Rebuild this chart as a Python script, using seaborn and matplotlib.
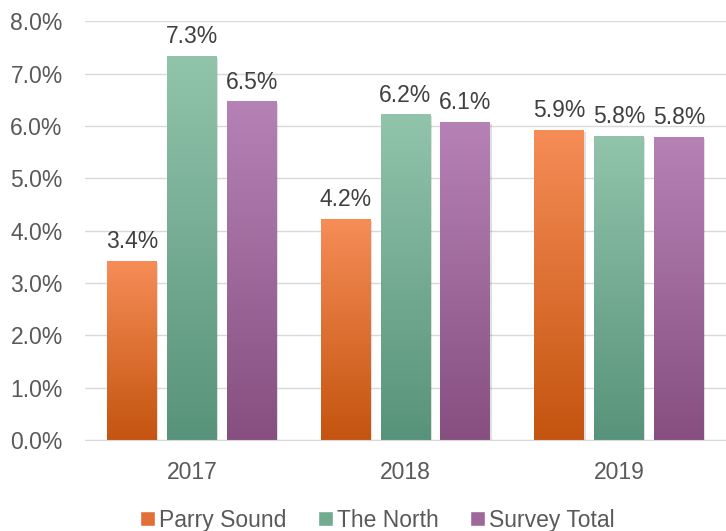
import numpy as np
import pandas as pd
import matplotlib
matplotlib.use("Agg")
import matplotlib.pyplot as plt
from matplotlib.colors import LinearSegmentedColormap
from matplotlib.patches import Patch
import matplotlib.patheffects as pe
import seaborn as sns

years = ["2017", "2018", "2019"]
series = ["Parry Sound", "The North", "Survey Total"]
parry_sound = [3.41, 4.21, 5.91]
the_north = [7.32, 6.21, 5.80]
survey_total = [6.46, 6.07, 5.78]

# top / bottom colours of each bar gradient
top_colors = ["#F68D57", "#91C4AB", "#B682B5"]
bottom_colors = ["#C4540F", "#57937A", "#864F80"]
mid_colors = ["#E07038", "#73AB91", "#9E689B"]

df = pd.DataFrame({
    "year": years * 3,
    "series": [s for s in series for _ in years],
    "value": parry_sound + the_north + survey_total,
})

sns.set_style("white")
plt.rcParams["font.family"] = ["Liberation Sans", "DejaVu Sans"]
FS = 16.5

fig = plt.figure(figsize=(7.26, 5.31), dpi=100)
ax = fig.add_axes([0.117, 0.171, 0.883, 0.789])

sns.barplot(data=df, x="year", y="value", hue="series", hue_order=series,
            palette=mid_colors, width=0.84, gap=0.167, ax=ax, legend=False,
            errorbar=None)

ax.set_ylim(0, 8)
ax.set_xlim(-0.5, 2.5)

# replace flat fill with vertical gradient per bar
for i, patch in enumerate(ax.patches):
    s = i // len(years)
    x0, y0 = patch.get_x(), patch.get_y()
    w, h = patch.get_width(), patch.get_height()
    cmap = LinearSegmentedColormap.from_list("g", [bottom_colors[s], top_colors[s]])
    grad = np.linspace(0, 1, 256).reshape(-1, 1)
    ax.imshow(grad, cmap=cmap, origin="lower", aspect="auto",
              extent=[x0, x0 + w, y0, y0 + h], zorder=2, interpolation="bilinear")
    patch.set_facecolor("none")
    patch.set_edgecolor("none")
    patch.set_path_effects([pe.SimplePatchShadow(offset=(1.0, -1.0), shadow_rgbFace="#000000",
                                                 alpha=0.12)])
    ax.text(x0 + w / 2, y0 + h + 0.16, f"{h:.1f}%", ha="center", va="bottom",
            fontsize=FS, color="#404040", zorder=4)

ax.set_xlim(-0.5, 2.5)
ax.set_ylim(0, 8)
ax.set_aspect("auto")

ax.set_yticks(np.arange(0, 8.01, 1))
ax.set_yticklabels([f"{v:.1f}%" for v in np.arange(0, 8.01, 1)])
ax.yaxis.grid(True, color="#D9D9D9", linewidth=1)
ax.set_axisbelow(True)
ax.tick_params(axis="both", length=0, labelsize=FS, labelcolor="#595959")
ax.tick_params(axis="y", pad=16)
ax.tick_params(axis="x", pad=15)
ax.set_xlabel("")
ax.set_ylabel("")
for side in ["left", "right", "top"]:
    ax.spines[side].set_visible(False)
ax.spines["bottom"].set_color("#D9D9D9")

handles = [Patch(facecolor=mid_colors[i], label=series[i]) for i in range(3)]
fig.legend(handles=handles, loc="lower center", bbox_to_anchor=(0.52, -0.04),
           ncol=3, frameon=False, fontsize=FS, labelcolor="#595959",
           handlelength=0.65, handleheight=0.65, handletextpad=0.2, columnspacing=1.35)

fig.savefig("out.png", dpi=100)
